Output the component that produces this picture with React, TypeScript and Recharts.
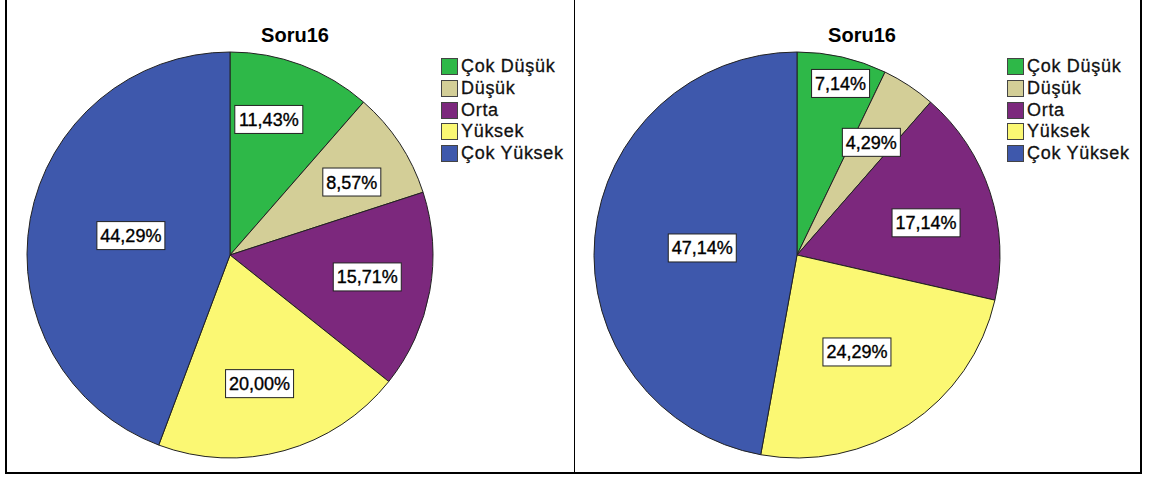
import React from "react";
import { Pie, PieChart, Cell, Legend } from "recharts";

const categories = ["Çok Düşük", "Düşük", "Orta", "Yüksek", "Çok Yüksek"];
const leftValues = [11.43, 8.57, 15.71, 20.0, 44.29];
const rightValues = [7.14, 4.29, 17.14, 24.29, 47.14];
const chartTitle = "Soru16";

const colors = ["#2EB848", "#D3CE97", "#7C287D", "#FBF873", "#3E58AC"];

// where SPSS put each label box: distance from centre and a small angle nudge
const leftLabelRadius = [141, 142, 139, 132, 101];
const leftLabelNudge = [-4.6, 2.5, -1.2, 2.5, 0.8];
const rightLabelRadius = [177, 135, 133, 114, 95];
const rightLabelNudge = [1.4, 0, 4, 1.7, -0.9];

const RAD = Math.PI / 180;
const FONT = "Arial, 'Liberation Sans', sans-serif";

const fmt = (v: number) => v.toFixed(2).replace(".", ",") + "%";

const textWidth = (s: string) => {
  let w = 0;
  for (const ch of s) {
    if (ch === ",") w += 5;
    else if (ch === "%") w += 16;
    else w += 10;
  }
  return w;
};

function makeLabel(radii: number[], nudge: number[]) {
  return (props: any) => {
    const { cx, cy, midAngle, index, value } = props;
    const r = radii[index];
    const a = (midAngle - nudge[index]) * RAD;
    const x = cx + r * Math.cos(-a);
    const y = cy + r * Math.sin(-a);
    const txt = fmt(value);
    const w = textWidth(txt) + 7;
    const h = 28;
    return (
      <g>
        <rect
          x={x - w / 2}
          y={y - h / 2}
          width={w}
          height={h}
          fill="#fff"
          stroke="#222"
          strokeWidth={1}
        />
        <text
          x={x}
          y={y + 6.5}
          textAnchor="middle"
          fontFamily={FONT}
          fontSize={18}
          fill="#000"
          stroke="#000"
          strokeWidth={0.35}
        >
          {txt}
        </text>
      </g>
    );
  };
}

const LegendBox = () => (
  <div
    style={{
      fontFamily: FONT,
      fontSize: 18,
      letterSpacing: 0.7,
      color: "#111",
      WebkitTextStroke: "0.3px #111",
    }}
  >
    {categories.map((name, i) => (
      <div
        key={name}
        style={{ display: "flex", alignItems: "center", height: 21.7 }}
      >
        <span
          style={{
            display: "inline-block",
            width: 17,
            height: 17,
            background: colors[i],
            border: "1px solid #444",
            marginRight: 3,
            boxSizing: "border-box",
            flex: "none",
          }}
        />
        <span style={{ whiteSpace: "nowrap" }}>{name}</span>
      </div>
    ))}
  </div>
);

function Panel({
  values,
  radii,
  nudge,
  left,
  legendLeft,
}: {
  values: number[];
  radii: number[];
  nudge: number[];
  left: number;
  legendLeft: number;
}) {
  const data = categories.map((name, i) => ({ name, value: values[i] }));
  return (
    <div style={{ position: "absolute", left, top: 0, width: 567, height: 472 }}>
      <div
        style={{
          position: "absolute",
          left: 288,
          top: 24,
          transform: "translateX(-50%)",
          fontFamily: FONT,
          fontWeight: "bold",
          fontSize: 20,
          whiteSpace: "nowrap",
        }}
      >
        {chartTitle}
      </div>
      <PieChart
        width={567}
        height={472}
        margin={{ top: 0, right: 0, bottom: 0, left: 0 }}
      >
        <Pie
          data={data}
          dataKey="value"
          nameKey="name"
          cx={223}
          cy={255}
          outerRadius={203}
          startAngle={90}
          endAngle={-270}
          stroke="#222"
          strokeWidth={1}
          label={makeLabel(radii, nudge)}
          labelLine={false}
          isAnimationActive={false}
        >
          {data.map((d, i) => (
            <Cell key={d.name} fill={colors[i]} />
          ))}
        </Pie>
        <Legend
          layout="vertical"
          content={<LegendBox />}
          wrapperStyle={{ position: "absolute", left: legendLeft, top: 56, width: 140 }}
        />
      </PieChart>
    </div>
  );
}

export default function App() {
  return (
    <div
      style={{
        position: "fixed",
        left: 0,
        top: 0,
        width: 1154,
        height: 480,
        background: "#fff",
      }}
    >
      <div style={{ position: "absolute", left: 5, top: 0, width: 2, height: 474, background: "#000" }} />
      <div style={{ position: "absolute", left: 1140, top: 0, width: 2, height: 474, background: "#000" }} />
      <div style={{ position: "absolute", left: 574, top: 0, width: 1, height: 474, background: "#000" }} />
      <div style={{ position: "absolute", left: 5, top: 472, width: 1137, height: 2, background: "#000" }} />
      <Panel values={leftValues} radii={leftLabelRadius} nudge={leftLabelNudge} left={7} legendLeft={434} />
      <Panel values={rightValues} radii={rightLabelRadius} nudge={rightLabelNudge} left={574} legendLeft={433} />
    </div>
  );
}
